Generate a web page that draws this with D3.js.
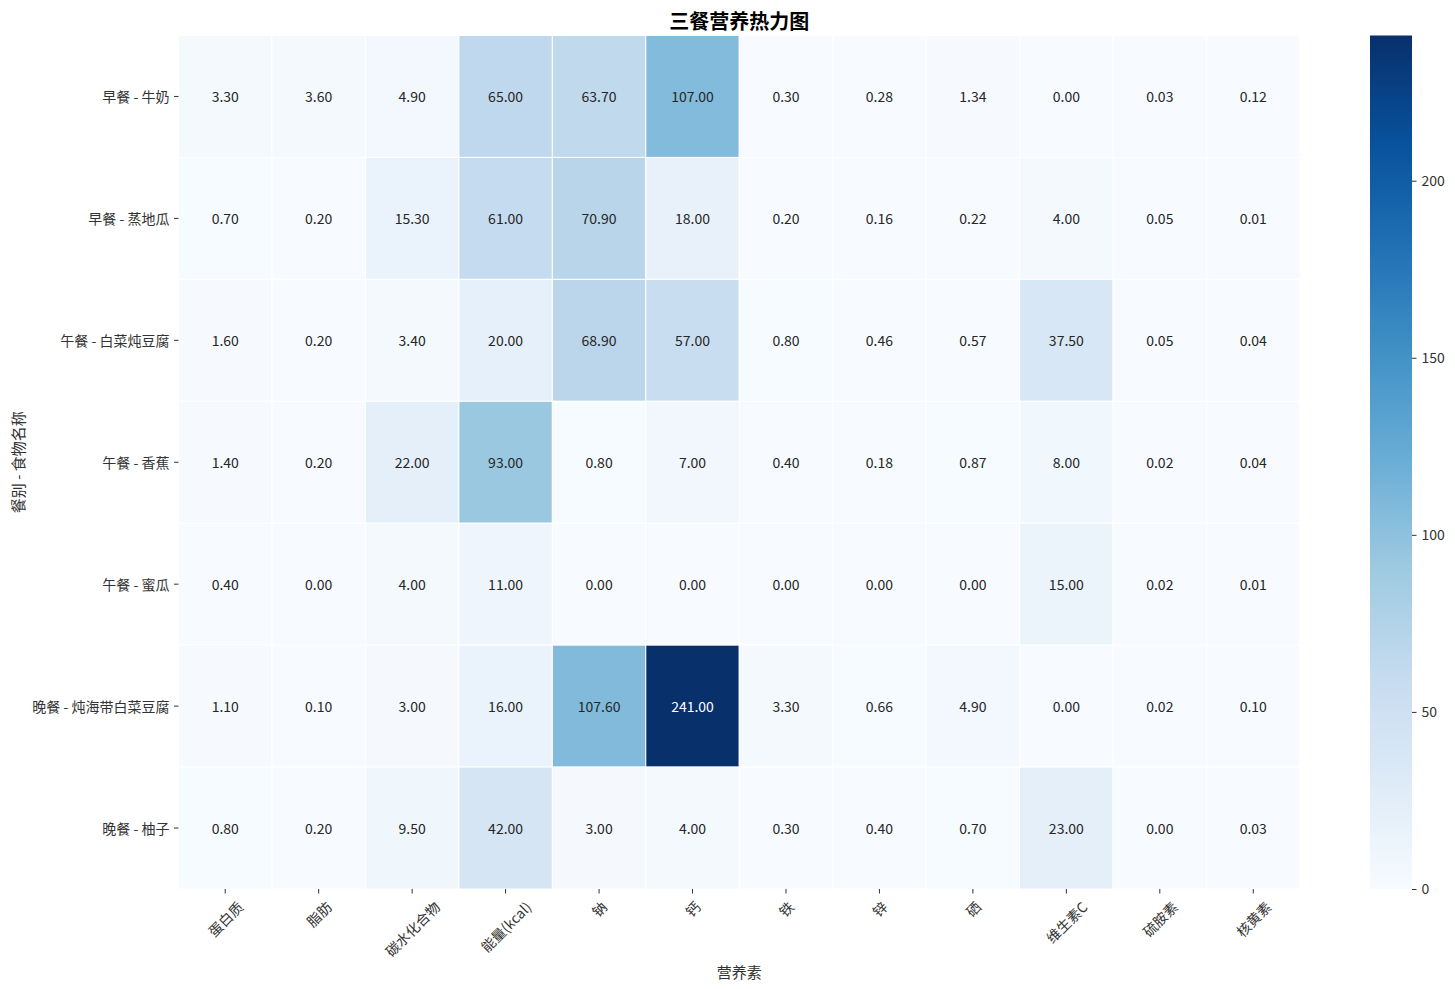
<!DOCTYPE html>
<html><head><meta charset="utf-8">
<script src="https://cdn.jsdelivr.net/npm/d3@7"></script>
<style>
html,body{margin:0;padding:0;background:#fff;}
text{font-family:"Noto Sans CJK SC","Noto Sans",sans-serif;}
</style></head>
<body><svg id="chart" width="1455" height="989"></svg>
<script>
const rowLabels = ["早餐 - 牛奶","早餐 - 蒸地瓜","午餐 - 白菜炖豆腐","午餐 - 香蕉","午餐 - 蜜瓜","晚餐 - 炖海带白菜豆腐","晚餐 - 柚子"];
const colLabels = ["蛋白质","脂肪","碳水化合物","能量(kcal)","钠","钙","铁","锌","硒","维生素C","硫胺素","核黄素"];
const row0 = [3.30,3.60,4.90,65.00,63.70,107.00,0.30,0.28,1.34,0.00,0.03,0.12];
const row1 = [0.70,0.20,15.30,61.00,70.90,18.00,0.20,0.16,0.22,4.00,0.05,0.01];
const row2 = [1.60,0.20,3.40,20.00,68.90,57.00,0.80,0.46,0.57,37.50,0.05,0.04];
const row3 = [1.40,0.20,22.00,93.00,0.80,7.00,0.40,0.18,0.87,8.00,0.02,0.04];
const row4 = [0.40,0.00,4.00,11.00,0.00,0.00,0.00,0.00,0.00,15.00,0.02,0.01];
const row5 = [1.10,0.10,3.00,16.00,107.60,241.00,3.30,0.66,4.90,0.00,0.02,0.10];
const row6 = [0.80,0.20,9.50,42.00,3.00,4.00,0.30,0.40,0.70,23.00,0.00,0.03];
const values = [row0,row1,row2,row3,row4,row5,row6];
const cbarTicks = [0,50,100,150,200];
const titleText = "三餐营养热力图";
const xLabelText = "营养素";
const yLabelText = "餐别 - 食物名称";

const svg = d3.select("#chart");
const L = 178.5, R = 1300, T = 35.5, B = 889;
const x = d3.scaleBand().domain(colLabels).range([L, R]);
const y = d3.scaleBand().domain(rowLabels).range([T, B]);
const vmax = d3.max(values.flat());
const blues = ["#f7fbff","#deebf7","#c6dbef","#9ecae1","#6baed6","#4292c6","#2171b5","#08519c","#08306b"];
const color = d3.scaleLinear().domain(blues.map((_, i) => i / 8 * vmax)).range(blues).interpolate(d3.interpolateRgb);

const cells = [];
values.forEach((r, i) => r.forEach((v, j) => cells.push({r: rowLabels[i], c: colLabels[j], v})));

svg.append("g").selectAll("rect").data(cells).join("rect")
  .attr("x", d => x(d.c)).attr("y", d => y(d.r))
  .attr("width", x.bandwidth()).attr("height", y.bandwidth())
  .attr("fill", d => color(d.v)).attr("stroke", "#fff").attr("stroke-width", 1);

function lum(c) {
  const rgb = d3.rgb(c);
  const f = u => { u /= 255; return u <= 0.03928 ? u / 12.92 : Math.pow((u + 0.055) / 1.055, 2.4); };
  return 0.2126 * f(rgb.r) + 0.7152 * f(rgb.g) + 0.0722 * f(rgb.b);
}
svg.append("g").selectAll("text").data(cells).join("text")
  .attr("x", d => x(d.c) + x.bandwidth() / 2).attr("y", d => y(d.r) + y.bandwidth() / 2)
  .attr("text-anchor", "middle").attr("dominant-baseline", "central")
  .attr("font-size", 14)
  .attr("fill", d => lum(color(d.v)) > 0.408 ? "#262626" : "#ffffff")
  .text(d => d.v.toFixed(2));

// x ticks
const xt = svg.append("g");
colLabels.forEach(c => {
  const cx = x(c) + x.bandwidth() / 2;
  xt.append("line").attr("x1", cx).attr("x2", cx).attr("y1", B).attr("y2", B + 4.5).attr("stroke", "#333").attr("stroke-width", 1);
  const t = xt.append("text").attr("font-size", 14).attr("fill", "#333")
    .attr("text-anchor", "middle").attr("dominant-baseline", "central").text(c);
  const len = t.node().getComputedTextLength();
  const h = 14;
  const half = (len * Math.SQRT1_2 + h * Math.SQRT1_2) / 2;
  t.attr("transform", `translate(${cx},${B + 10 + half}) rotate(-45)`);
});
// y ticks
const yt = svg.append("g");
rowLabels.forEach(r => {
  const cy = y(r) + y.bandwidth() / 2;
  yt.append("line").attr("x1", L - 4.5).attr("x2", L).attr("y1", cy).attr("y2", cy).attr("stroke", "#333").attr("stroke-width", 1);
  yt.append("text").attr("x", L - 9).attr("y", cy).attr("font-size", 14).attr("fill", "#333")
    .attr("text-anchor", "end").attr("dominant-baseline", "central").text(r);
});

svg.append("text").attr("x", (L + R) / 2).attr("y", 20).attr("text-anchor", "middle")
  .attr("dominant-baseline", "central").attr("font-size", 20).attr("font-weight", "bold").attr("fill", "#000").text(titleText);
svg.append("text").attr("x", (L + R) / 2).attr("y", 971).attr("text-anchor", "middle")
  .attr("dominant-baseline", "central").attr("font-size", 15).attr("fill", "#333").text(xLabelText);
svg.append("text").attr("transform", `translate(17,${(T + B) / 2}) rotate(-90)`).attr("text-anchor", "middle")
  .attr("dominant-baseline", "central").attr("font-size", 15).attr("fill", "#333").text(yLabelText);

// colorbar
const cbX = 1370, cbW = 42;
const cy = d3.scaleLinear().domain([0, vmax]).range([B, T]);
const defs = svg.append("defs");
const grad = defs.append("linearGradient").attr("id", "cb").attr("x1", 0).attr("y1", 1).attr("x2", 0).attr("y2", 0);
blues.forEach((b, i) => grad.append("stop").attr("offset", i / 8).attr("stop-color", b));
svg.append("rect").attr("x", cbX).attr("y", T).attr("width", cbW).attr("height", B - T).attr("fill", "url(#cb)");
const axis = d3.axisRight(cy).tickValues(cbarTicks).tickSize(4.5).tickPadding(5);
const ag = svg.append("g").attr("transform", `translate(${cbX + cbW},0)`).call(axis);
ag.select(".domain").remove();
ag.selectAll("line").attr("stroke", "#333");
ag.selectAll("text").attr("font-size", 14).attr("fill", "#333").attr("font-family", "\"Noto Sans CJK SC\",\"Noto Sans\",sans-serif");
</script></body></html>
